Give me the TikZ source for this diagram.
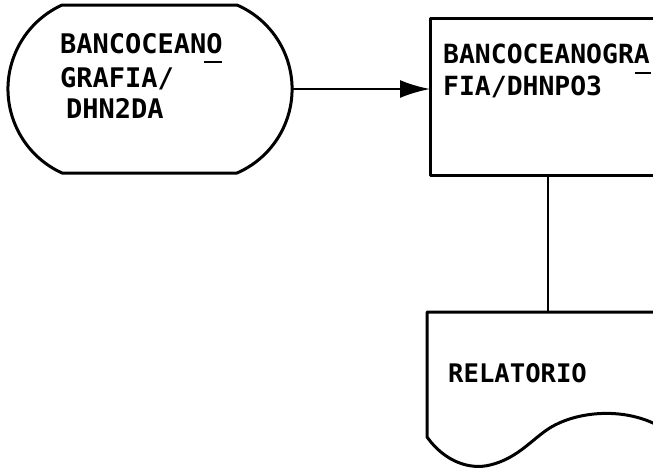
\documentclass[tikz,border=0pt]{standalone}
\usepackage{fontspec}
\newfontfamily\monof{DejaVu Sans Mono Bold}
\usetikzlibrary{arrows.meta}
\begin{document}
\begin{tikzpicture}[x=1pt,y=-1pt,
  shapeline/.style={line width=3pt, line join=round},
  conn/.style={line width=2.4pt},
  lbl/.style={anchor=base west, inner sep=0pt, font=\monof\fontsize{27}{27}\selectfont},
  ul/.style={line width=2.4pt}]
\useasboundingbox (0,0) rectangle (653,467);
\clip (0,0) rectangle (653,467);
% terminal
\draw[shapeline] (62,5) -- (237,5)
  arc[start angle=-66.5, end angle=66.5, radius=91.6]
  -- (62,173)
  arc[start angle=-245.5, end angle=-114.5, radius=92.3] -- cycle;
\coordinate (termE) at (292,89);
\node[lbl] (t1) at (60,53) {BANCOCEANO};
\node[lbl] (t2) at (60,87) {GRAFIA/};
\node[lbl] (t3) at (66,118) {DHN2DA};
\draw[ul] (204,62) -- (222,62);
% process box
\draw[shapeline] (700,18) -- (430,18) -- (430,175) -- (700,175);
\coordinate (boxW) at (430,89);
\coordinate (boxS) at (548,175);
\node[lbl, font=\monof\fontsize{26.4}{26.4}\selectfont] (b1) at (443,63) {BANCOCEANOGRA};
\node[lbl, font=\monof\fontsize{26.4}{26.4}\selectfont] (b2) at (443,95) {FIA/DHNPO3};
\draw[ul] (635,73) -- (651,73);
% document
\draw[shapeline] (700,312) -- (427,312) -- (427,437)
  .. controls (445,462) and (470,470) .. (490,465)
  .. controls (520,458) and (535,435) .. (555,425)
  .. controls (580,412) and (620,408) .. (653,423) -- (700,450);
\coordinate (docN) at (548,312);
\node[lbl, font=\monof\fontsize{25.6}{25.6}\selectfont] (d1) at (448,382) {RELATORIO};
% connectors
\draw[conn, -{Latex[length=30pt,width=18pt]}] (termE) -- (boxW);
\draw[conn] (boxS) -- (docN);
\end{tikzpicture}
\end{document}
